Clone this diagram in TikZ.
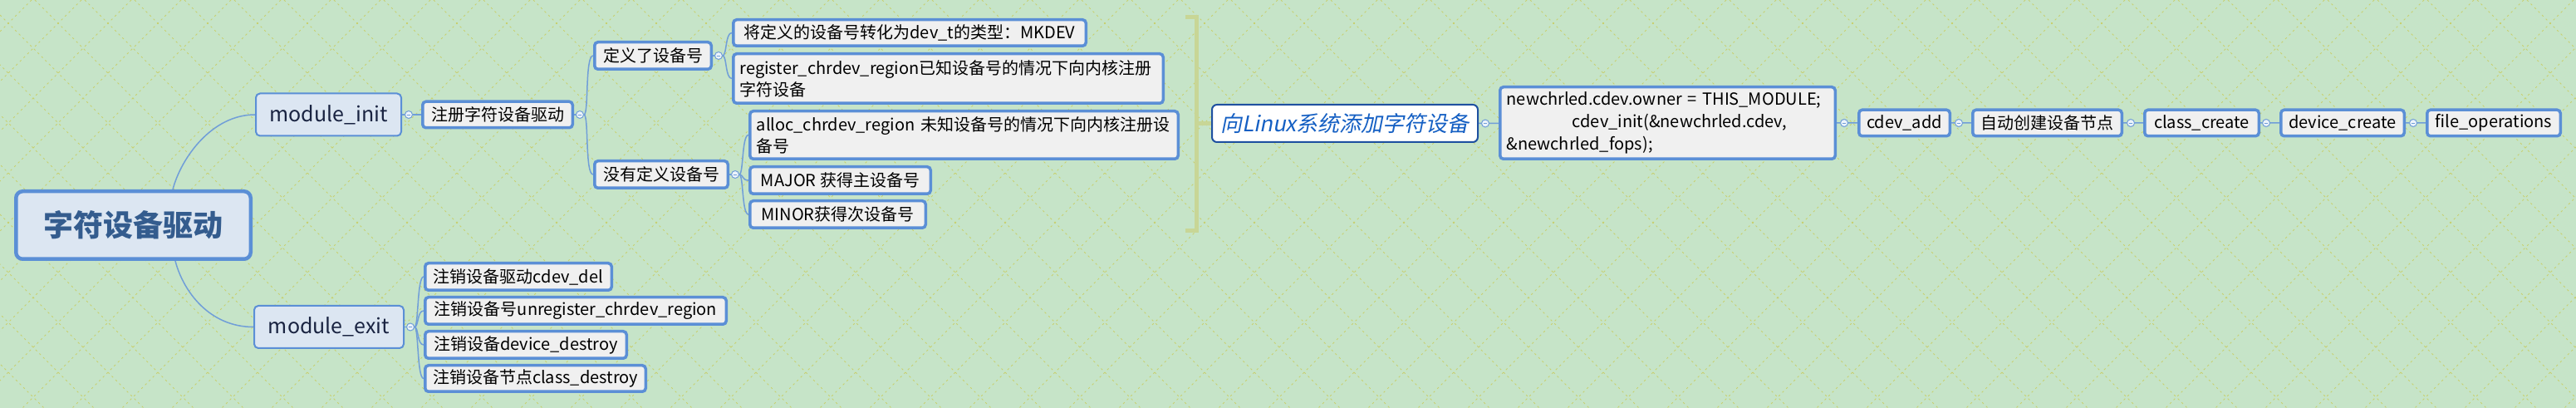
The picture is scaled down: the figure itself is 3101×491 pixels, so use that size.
\documentclass[tikz,border=0pt]{standalone}
\usepackage{fontspec}
\setmainfont{Noto Sans CJK SC}
\newfontfamily\slantfont{Noto Sans CJK SC}[FakeSlant=0.2]
\usetikzlibrary{positioning}
\definecolor{bggreen}{RGB}{198,228,200}
\definecolor{patternc}{RGB}{200,208,112}
\definecolor{boxblue}{RGB}{91,143,214}
\definecolor{topfill}{RGB}{220,230,242}
\definecolor{subfill}{RGB}{240,240,240}
\definecolor{rootfont}{RGB}{52,92,142}
\definecolor{topfont}{RGB}{25,35,65}
\definecolor{linkblue}{RGB}{112,158,216}
\definecolor{foldfill}{RGB}{236,243,251}
\definecolor{sumborder}{RGB}{30,80,160}
\definecolor{sumfont}{RGB}{20,95,195}
\definecolor{bracketc}{RGB}{200,214,150}
\tikzset{
    rootnode/.style = {rectangle, rounded corners=4pt, line width=2.25pt, draw=boxblue, fill=topfill, text=rootfont, font=\fontsize{18pt}{22pt}\selectfont\bfseries, inner sep=2pt},
    topnode/.style = {rectangle, rounded corners=2.5pt, line width=1pt, draw=boxblue, fill=topfill, text=topfont, font=\fontsize{12.5pt}{15pt}\selectfont, inner sep=2pt},
    subnode/.style = {rectangle, rounded corners=2pt, line width=1.75pt, draw=boxblue, fill=subfill, text=black, font=\fontsize{10pt}{13pt}\selectfont, inner xsep=4pt, inner ysep=2pt},
    sumnode/.style = {rectangle, rounded corners=3pt, line width=1pt, draw=sumborder, fill=white, text=sumfont, font=\fontsize{13pt}{16pt}\slantfont, inner sep=2pt},
    foldc/.style = {circle, draw=linkblue, fill=foldfill, line width=0.5pt, minimum size=4.5pt, inner sep=0pt,
        path picture={\draw[linkblue, line width=0.4pt] ([xshift=-1.2pt]path picture bounding box.center) -- ([xshift=1.2pt]path picture bounding box.center);}},
    edgeb/.style = {line width=0.75pt, draw=linkblue},
    summline/.style = {line width=2.5pt, draw=bracketc},
    bgline/.style = {line width=0.5pt, draw=patternc, dash pattern=on 1.2pt off 2pt}
}

\begin{document}
\begin{tikzpicture}[x=0.5pt, y=-0.5pt]
  % background
  \fill[bggreen] (0,0) rectangle (3101,491);
  \useasboundingbox (0,0) rectangle (3101,491);
  \begin{scope}
    \clip (0,0) rectangle (3101,491);
    \foreach \k in {-9,...,51}
      \draw[bgline] ({42+60*\k},0) -- ({533+60*\k},491);
    \foreach \k in {0,...,60}
      \draw[bgline] ({38+60*\k},0) -- ({60*\k-453},491);
  \end{scope}

  \node[rootnode, minimum width=141.25pt, minimum height=40.75pt] at (160.5,271) (root) {字符设备驱动};

  \node[topnode, minimum width=87.5pt, minimum height=25.5pt] at (395.5,138) (mi) {module\_init};
  \node[topnode, minimum width=90pt, minimum height=25.5pt] at (396,393.5) (me) {module\_exit};

  \node[foldc] at (492,138) (fmi) {};
  \node[subnode, minimum width=90.25pt, minimum height=15.75pt] at (599,138) (reg) {注册字符设备驱动};
  \node[foldc] at (698,138) (freg) {};

  \node[subnode, minimum width=70.25pt, minimum height=16.25pt] at (786,67) (def) {定义了设备号};
  \node[subnode, minimum width=80.25pt, minimum height=16.25pt] at (796,210) (ndef) {没有定义设备号};
  \node[foldc] at (865,67) (fdef) {};
  \node[foldc] at (885,210) (fndef) {};

  \node[subnode, minimum width=212.25pt, minimum height=15.75pt] at (1095,39.5) (mk) {将定义的设备号转化为dev\_t的类型：MKDEV};
  \node[subnode, text width=250.75pt, align=left, minimum height=29.75pt] at (1141.5,94.5) (rcr) {register\_chrdev\_region已知设备号的情况下向内核注册\\字符设备};
  \node[subnode, text width=249.75pt, align=left, minimum height=28.75pt] at (1160.5,162.5) (acr) {alloc\_chrdev\_region~未知设备号的情况下向内核注册设\\备号};
  \node[subnode, minimum width=108.75pt, minimum height=16.25pt] at (1011.5,217) (maj) {MAJOR 获得主设备号};
  \node[subnode, minimum width=105.75pt, minimum height=16.25pt] at (1008.5,258) (mino) {MINOR获得次设备号};

  \node[foldc] at (494,393.5) (fme) {};
  \node[subnode, minimum width=112.25pt, minimum height=16.25pt] at (624,333) (d1) {注销设备驱动cdev\_del};
  \node[subnode, minimum width=181.25pt, minimum height=16.25pt] at (693,374) (d2) {注销设备号unregister\_chrdev\_region};
  \node[subnode, minimum width=121.25pt, minimum height=16.25pt] at (633,415) (d3) {注销设备device\_destroy};
  \node[subnode, minimum width=132.75pt, minimum height=15.75pt] at (644.5,455.5) (d4) {注销设备节点class\_destroy};

  % summary
  \coordinate (brt0) at (1427,20.5);
  \coordinate (brt1) at (1440.5,20.5);
  \coordinate (brb1) at (1440.5,278);
  \coordinate (brb0) at (1427,278);
  \coordinate (brm) at (1440.5,148.5);
  \node[sumnode, minimum width=160pt, minimum height=22.5pt] at (1619,148.5) (sm) {向Linux系统添加字符设备};
  \node[foldc] at (1788,148.5) (fsm) {};

  \node[subnode, text width=193.75pt, align=left, minimum height=43.25pt, font=\fontsize{10pt}{13.5pt}\selectfont] at (2007.5,148) (nc) {newchrled.cdev.owner~=~THIS\_MODULE;\\\hspace*{39.5pt}cdev\_init(\&newchrled.cdev,\\\&newchrled\_fops);};
  \node[foldc] at (2220,148) (fnc) {};
  \node[subnode, minimum width=54.75pt, minimum height=15.75pt] at (2292.5,148) (ca) {cdev\_add};
  \node[foldc] at (2358,148) (fca) {};
  \node[subnode, minimum width=89.75pt, minimum height=15.75pt] at (2464.5,148) (auto) {自动创建设备节点};
  \node[foldc] at (2565,148) (fauto) {};
  \node[subnode, minimum width=68.75pt, minimum height=15.75pt] at (2650.5,148) (cc) {class\_create};
  \node[foldc] at (2728,148) (fcc) {};
  \node[subnode, minimum width=74.25pt, minimum height=15.75pt] at (2820,148) (dc) {device\_create};
  \node[foldc] at (2905,148) (fdc) {};
  \node[subnode, minimum width=80.25pt, minimum height=15.75pt] at (3002,148) (fo) {file\_operations};

  % connectors
  \draw[edgeb] ([xshift=23.75pt]root.north) .. controls +(10,-38) and +(-52,0) .. (mi.west);
  \draw[edgeb] ([xshift=25.25pt]root.south) .. controls +(10,38) and +(-52,0) .. (me.west);
  \draw[edgeb] (mi) -- (fmi) -- (reg) -- (freg);
  \draw[edgeb] (freg.east) .. controls +(6,0) and +(-10,0) .. (def.west);
  \draw[edgeb] (freg.east) .. controls +(6,0) and +(-10,0) .. (ndef.west);
  \draw[edgeb] (def) -- (fdef);
  \draw[edgeb] (ndef) -- (fndef);
  \draw[edgeb] (fdef.east) .. controls +(5,0) and +(-8,0) .. (mk.west);
  \draw[edgeb] (fdef.east) .. controls +(5,0) and +(-8,0) .. (rcr.west);
  \draw[edgeb] (fndef.east) .. controls +(5,0) and +(-8,0) .. (acr.west);
  \draw[edgeb] (fndef.east) .. controls +(5,0) and +(-8,0) .. (maj.west);
  \draw[edgeb] (fndef.east) .. controls +(5,0) and +(-8,0) .. (mino.west);
  \draw[edgeb] (me) -- (fme);
  \foreach \d in {d1,d2,d3,d4}
    \draw[edgeb] (fme.east) .. controls +(5,0) and +(-8,0) .. (\d.west);
  \draw[summline] (brt0) -- (brt1) -- (brb1) -- (brb0);
  \draw[summline] (brm) -- (sm.west);
  \draw[edgeb] (sm) -- (fsm) -- (nc) -- (fnc) -- (ca) -- (fca) -- (auto) -- (fauto) -- (cc) -- (fcc) -- (dc) -- (fdc) -- (fo);
\end{tikzpicture}
\end{document}
